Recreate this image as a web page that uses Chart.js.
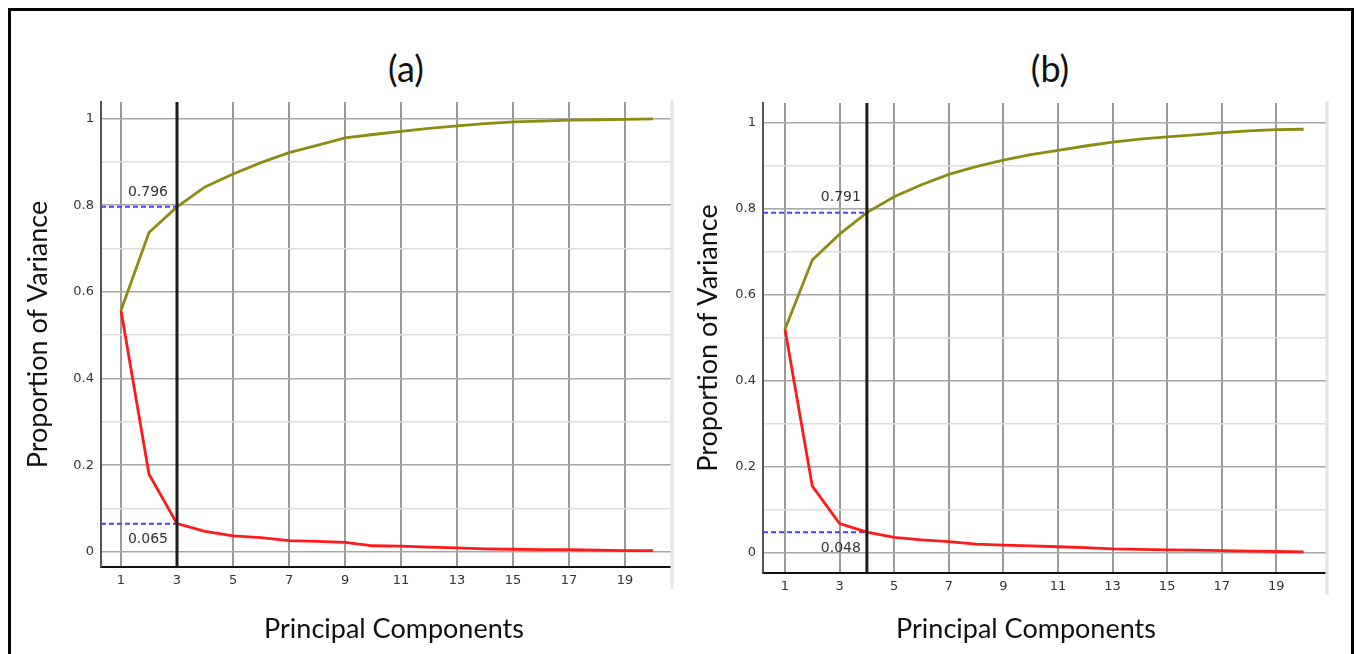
<!DOCTYPE html>
<html>
<head>
<meta charset="utf-8">
<script src="https://cdn.jsdelivr.net/npm/chart.js@4.4.0/dist/chart.umd.min.js"></script>
<style>
  body { margin: 0; background: #fff; width: 1356px; height: 654px; overflow: hidden; position: relative; }
  #frame { position: absolute; left: 8px; top: 8px; width: 1340px; height: 660px; border: 3px solid #000; }
  .panel-title { position: absolute; top: 46px; font-family: Lato, sans-serif; font-size: 36px; color: #111; transform: translateX(-50%); }
  .axis-title { position: absolute; top: 611px; font-family: Lato, sans-serif; font-size: 27px; color: #111; transform: translateX(-50%); white-space: nowrap; }
  canvas { position: absolute; top: 0; }
</style>
</head>
<body>
<div id="frame"></div>
<div class="panel-title" style="left:406px">(a)</div>
<div class="panel-title" style="left:1050px">(b)</div>
<canvas id="chartA" width="668" height="654" style="left:12px"></canvas>
<canvas id="chartB" width="668" height="654" style="left:682px"></canvas>
<div class="axis-title" style="left:394px">Principal Components</div>
<div class="axis-title" style="left:1026px">Principal Components</div>
<script>
// principal components 1..20
const componentes = [1, 2, 3, 4, 5, 6, 7, 8, 9, 10, 11, 12, 13, 14, 15, 16, 17, 18, 19, 20];

// (a)
const acumuladaA = [0.557, 0.737, 0.796, 0.842, 0.872, 0.898, 0.921, 0.938, 0.955, 0.963,
                    0.970, 0.977, 0.983, 0.988, 0.992, 0.994, 0.996, 0.997, 0.998, 0.999];
const individualA = [0.557, 0.179, 0.065, 0.047, 0.037, 0.033, 0.026, 0.024, 0.022, 0.014,
                     0.013, 0.011, 0.009, 0.007, 0.006, 0.005, 0.005, 0.004, 0.003, 0.003];
const corteA = 3;

// (b)
const acumuladaB = [0.520, 0.681, 0.741, 0.791, 0.828, 0.856, 0.880, 0.898, 0.913, 0.926,
                    0.936, 0.946, 0.955, 0.962, 0.967, 0.972, 0.977, 0.981, 0.984, 0.985];
const individualB = [0.520, 0.155, 0.068, 0.048, 0.036, 0.030, 0.026, 0.020, 0.018, 0.016,
                     0.014, 0.012, 0.009, 0.008, 0.007, 0.006, 0.005, 0.004, 0.003, 0.002];
const corteB = 4;

const ticksX = [1, 3, 5, 7, 9, 11, 13, 15, 17, 19];
const ticksY = [0, 0.1, 0.2, 0.3, 0.4, 0.5, 0.6, 0.7, 0.8, 0.9, 1];

const fuenteTicks = { family: 'DejaVu Sans', size: 13 };
const fuenteTitulo = { family: 'Lato', size: 27 };

// etiquetas del corte (acumulada arriba, individual abajo)
const etiquetasCorte = {
  id: 'etiquetasCorte',
  afterDatasetsDraw(chart, args, opts) {
    const ctx = chart.ctx;
    const x = chart.scales.x.getPixelForValue(opts.corte);
    const yA = chart.scales.y.getPixelForValue(opts.acum);
    const yI = chart.scales.y.getPixelForValue(opts.ind);
    ctx.save();
    ctx.font = '14px "DejaVu Sans"';
    ctx.fillStyle = '#333';
    ctx.textAlign = 'right';
    ctx.textBaseline = 'middle';
    ctx.fillText(opts.acum.toFixed(3), x - opts.dx, yA - 15);
    ctx.fillText(opts.ind.toFixed(3), x - opts.dx, yI + 16);
    // borde derecho claro
    const a = chart.chartArea;
    ctx.strokeStyle = '#e4e4e4';
    ctx.lineWidth = 3;
    ctx.beginPath();
    ctx.moveTo(a.right + 1, a.top - 2);
    ctx.lineTo(a.right + 1, a.bottom + 22);
    ctx.stroke();
    ctx.restore();
  }
};

function armarGrafico(id, acumulada, individual, corte, ejes) {
  const puntos = (vals) => componentes.map((c, i) => ({ x: c, y: vals[i] }));
  const ctx = document.getElementById(id).getContext('2d');
  return new Chart(ctx, {
    type: 'line',
    data: {
      datasets: [
        {
          data: [{ x: corte, y: ejes.yMin }, { x: corte, y: ejes.yMax }],
          borderColor: '#1c1c1c', borderWidth: 3, pointRadius: 0
        },
        {
          label: 'Acumulada',
          data: puntos(acumulada),
          borderColor: '#8c8c12', borderWidth: 2.8, pointRadius: 0, tension: 0
        },
        {
          label: 'Individual',
          data: puntos(individual),
          borderColor: '#ff1a1a', borderWidth: 2.8, pointRadius: 0, tension: 0
        },
        {
          data: [{ x: ejes.xMin, y: acumulada[corte - 1] }, { x: corte, y: acumulada[corte - 1] }],
          borderColor: '#4646ff', borderWidth: 2, borderDash: [5, 3], pointRadius: 0
        },
        {
          data: [{ x: ejes.xMin, y: individual[corte - 1] }, { x: corte, y: individual[corte - 1] }],
          borderColor: '#4646ff', borderWidth: 2, borderDash: [5, 3], pointRadius: 0
        }
      ]
    },
    options: {
      responsive: false,
      animation: false,
      events: [],
      layout: { padding: { top: ejes.top, right: ejes.right, bottom: 0, left: 0 } },
      plugins: {
        legend: { display: false },
        tooltip: { enabled: false },
        etiquetasCorte: { corte: corte, acum: acumulada[corte - 1], ind: individual[corte - 1], dx: ejes.dx }
      },
      scales: {
        x: {
          type: 'linear',
          min: ejes.xMin,
          max: ejes.xMax,
          afterBuildTicks: (s) => { s.ticks = ticksX.map(v => ({ value: v })); },
          afterFit: (s) => { s.height = ejes.altoX; },
          ticks: { font: fuenteTicks, color: '#333', padding: 6, maxRotation: 0,
                   callback: (v) => String(v) },
          grid: { color: '#9a9a9a', lineWidth: 2, drawTicks: false },
          border: { color: '#111', width: 2 }
        },
        y: {
          type: 'linear',
          min: ejes.yMin,
          max: ejes.yMax,
          afterBuildTicks: (s) => { s.ticks = ticksY.map(v => ({ value: v })); },
          afterFit: (s) => { s.width = ejes.anchoY; },
          ticks: {
            font: fuenteTicks, color: '#333', padding: 7,
            callback: (v) => {
              const k = Math.round(v * 10);
              return k % 2 === 0 ? String(k / 10) : '';
            }
          },
          grid: {
            drawTicks: false,
            lineWidth: 1.5,
            color: (c) => (Math.round(c.tick.value * 10) % 2 === 0 ? '#a6a6a6' : '#dedede')
          },
          border: { color: '#555', width: 2 },
          title: { display: true, text: 'Proportion of Variance', font: fuenteTitulo, color: '#111',
                   padding: { top: 10, bottom: 0 } }
        }
      }
    },
    plugins: [etiquetasCorte]
  });
}

armarGrafico('chartA', acumuladaA, individualA, corteA,
  { xMin: 0.286, xMax: 20.64, yMin: -0.035, yMax: 1.038, top: 102, right: 9, altoX: 87, anchoY: 89, dx: 9 });
armarGrafico('chartB', acumuladaB, individualB, corteB,
  { xMin: 0.194, xMax: 20.82, yMin: -0.047, yMax: 1.046, top: 103, right: 24, altoX: 81, anchoY: 81, dx: 6 });
</script>
</body>
</html>
